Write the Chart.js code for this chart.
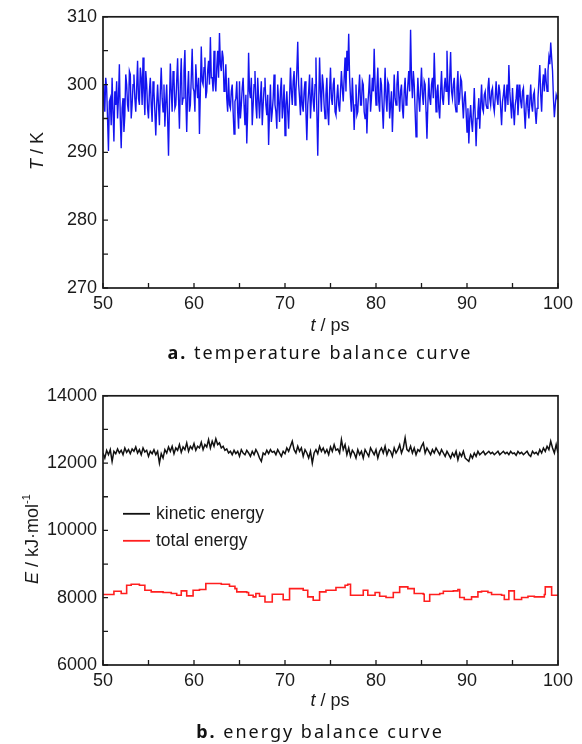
<!DOCTYPE html>
<html>
<head>
<meta charset="utf-8">
<script src="https://cdn.jsdelivr.net/npm/chart.js@4.4.1/dist/chart.umd.min.js"></script>
<style>
  html, body { margin: 0; padding: 0; background: #fff; }
  body { width: 582px; height: 744px; position: relative; overflow: hidden;
         font-family: "Liberation Sans", Arial, sans-serif; color: #1a1a1a; }
  .box { position: absolute; left: 0; width: 582px; }
  #boxA { top: 0; height: 320px; }
  #boxB { top: 379px; height: 318px; }
  .lbl { position: absolute; font-size: 18px; white-space: nowrap; }
  .ytitle { transform: translate(-50%, -50%) rotate(-90deg); }
  .xtitle { transform: translate(-50%, -50%); }
  .cap { position: absolute; white-space: nowrap; transform: translate(-50%, -50%);
         font-family: "Noto Sans", sans-serif; font-size: 18px; letter-spacing: 2px; color: #111; }
  sup { font-size: 11px; vertical-align: 8px; }
</style>
</head>
<body>
<div class="box" id="boxA"><canvas id="tempChart"></canvas></div>
<div class="box" id="boxB"><canvas id="energyChart"></canvas></div>

<div class="lbl ytitle" style="left:37px; top:151px;"><i>T</i> / K</div>
<div class="lbl xtitle" style="left:330px; top:325px;"><i>t</i> / ps</div>
<div class="cap" style="left:320px; top:352px;"><b>a.</b> temperature balance curve</div>

<div class="lbl ytitle" style="left:31px; top:539px;"><i>E</i> / kJ·mol<sup>-1</sup></div>
<div class="lbl xtitle" style="left:330px; top:700px;"><i>t</i> / ps</div>
<div class="cap" style="left:320px; top:731px;"><b>b.</b> energy balance curve</div>

<script>
// sampling grids of the MD trajectory (ps)
const tempStart = 50, tempStep = 0.1;
const kinStart = 50, kinStep = 0.2;

const xTicks = [50, 60, 70, 80, 90, 100];
const tempTicks = [270, 280, 290, 300, 310];
const energyTicks = [6000, 8000, 10000, 12000, 14000];

// temperature (K), one value every 0.1 ps from 50 to 100 ps (10 per row)
const temperature = [
  300, 297, 296, 301, 299.5, 295, 290.2, 297.5, 298, 294,
  301, 296, 291.6, 299, 297, 300.5, 295, 298, 303, 295,
  290.6, 296.5, 298, 293, 295.5, 301.5, 300, 297, 296, 302,
  301.5, 295, 297, 300, 301.5, 298, 296, 299.5, 303.5, 298,
  297, 302.5, 301, 297, 304, 299, 295.5, 302, 300, 296.5,
  295, 299, 301, 297, 294.5, 300.5, 299, 296, 292.5, 297,
  300, 297, 294, 299, 302.5, 298, 296, 300, 293.8, 297.5,
  300, 295, 289.5, 297, 303.1, 299, 296, 302, 301, 296.5,
  297, 300.5, 303.9, 298, 293.5, 300, 303.9, 297, 298, 302,
  305.1, 298, 293, 299, 302, 296, 297, 301, 305.3, 299.5,
  299, 296, 303, 300, 298, 301, 292.7, 299, 305.6, 300.5,
  300, 302.5, 304, 298, 299, 302, 303.5, 300, 307, 301,
  301, 299, 305, 300.5, 299, 302.5, 305, 301, 307.6, 303,
  302, 305, 304, 299, 300, 303, 298, 296, 301, 297,
  296.5, 299, 300, 296, 292.7, 297.5, 298, 300.5, 296, 293.5,
  300.5, 295, 297, 299.5, 301, 297, 294, 298.5, 291.3, 296,
  304.7, 299, 298, 301, 294, 297, 300, 302, 297, 295,
  301, 298, 295, 298, 300.5, 294, 297, 299.5, 301, 297,
  295.5, 298.5, 291.1, 296, 300, 294.5, 296, 298, 301.5, 297,
  296, 293.5, 300, 297.5, 294.5, 299, 301, 295, 297, 300,
  292.5, 297, 299, 296, 293.5, 298, 302.5, 299, 297, 300.5,
  302, 297, 299, 302, 306.3, 300, 298, 295.5, 301, 297,
  296, 299, 300.5, 296, 291.8, 297, 299, 301.5, 295, 298,
  301, 297.5, 296, 300, 304, 296, 289.5, 297, 304, 299,
  296, 301.5, 300, 297, 295, 298.5, 301, 296, 294, 299,
  302.5, 298, 297, 300, 301, 296, 295.5, 298, 300, 297,
  296, 299, 302, 299.5, 297.5, 301, 304, 299, 305, 302,
  307.5, 301, 298, 296, 301, 297.5, 293.3, 297, 300, 295.5,
  296, 299, 301.5, 297, 297, 300.5, 300, 296, 295, 298,
  292.8, 297, 299, 301.5, 296, 298, 301, 299, 305.3, 300,
  297, 299.5, 302.5, 297.5, 296, 301, 300, 296.5, 293.5, 298,
  302.5, 298, 296, 300.5, 300, 295, 297, 299, 293, 297,
  301.5, 298, 297, 300, 302, 298.5, 296, 299, 300, 296.5,
  295, 299, 301, 297, 297.5, 300, 302, 299, 308.1, 301,
  298, 302, 300, 296, 292.3, 297, 301, 298, 296, 299.5,
  302.5, 298.5, 297, 300.5, 300, 296, 292, 297, 301, 298,
  297, 300, 301, 298, 304.7, 300, 296, 299, 300, 296.5,
  295, 299, 302, 298, 297, 299.5, 301, 299, 305, 300,
  297, 301, 304.8, 299, 298, 300, 301, 297, 296, 299.5,
  302, 297, 298, 301, 300.5, 297.5, 295, 298, 299, 296,
  293, 296.5, 291.3, 295, 297, 294.5, 293, 296, 299.5, 295.5,
  290.9, 295, 296, 298, 293.5, 297, 300, 296.5, 296, 298.5,
  299, 297, 296.5, 299.5, 301, 298, 297, 299, 299.5, 297,
  296, 298, 300.5, 298, 297, 300, 299, 296.5, 294, 297.5,
  298.5, 300, 296, 298, 300, 297, 302.9, 299, 297, 295,
  299.5, 296.5, 294, 297, 298, 300, 295.5, 298, 300, 297.5,
  296.5, 299, 299.5, 296, 293.5, 297, 298.5, 296.5, 295, 297.5,
  300, 297, 296, 298.5, 299, 296, 294.2, 296.5, 298, 300.5,
  302.9, 298.5, 296, 300, 301.5, 299, 302.4, 300.5, 299, 302,
  304, 303, 306.2, 304, 302, 298, 295.2, 297, 298.5, 298,
  298.4
];

// kinetic energy (kJ/mol), one value every 0.2 ps
const kinetic = [
  12300, 12150, 12380, 12250, 12400,
  12050, 12350, 12280, 12420, 12300,
  12380, 12250, 12450, 12320, 12400,
  12280, 12420, 12350, 12480, 12300,
  12400, 12250, 12450, 12330, 12380,
  12200, 12350, 12280, 12400, 12250,
  12350, 12000, 12280, 12150, 12400,
  12300, 12480, 12350, 12500, 12280,
  12450, 12380, 12550, 12320, 12480,
  12400, 12600, 12350, 12500, 12420,
  12580, 12380, 12500, 12450, 12620,
  12400, 12550, 12480, 12700, 12450,
  12650, 12500, 12720, 12550, 12600,
  12450, 12500, 12380, 12420, 12300,
  12350, 12250, 12380, 12280, 12350,
  12200, 12400, 12300, 12250, 12380,
  12300, 12200, 12350, 12250, 12400,
  12300, 12150, 12050, 12300, 12250,
  12380, 12280, 12400, 12320, 12350,
  12250, 12400, 12300, 12200, 12350,
  12280, 12450, 12350, 12500, 12650,
  12400, 12300, 12500, 12350, 12450,
  12200, 12400, 12300, 12150, 12350,
  12000, 12300, 12400, 12280, 12500,
  12350, 12450, 12300, 12400, 12250,
  12480, 12350, 12550, 12380, 12420,
  12300, 12700, 12400, 12550, 12250,
  12450, 12200, 12380, 12300, 12150,
  12400, 12250, 12350, 12150, 12400,
  12300, 12200, 12450, 12350, 12250,
  12400, 12150, 12350, 12450, 12300,
  12500, 12250, 12400, 12350, 12200,
  12450, 12300, 12400, 12550, 12300,
  12450, 12750, 12400, 12350, 12500,
  12300, 12450, 12250, 12400, 12350,
  12500, 12600, 12300, 12450, 12350,
  12250, 12400, 12300, 12450, 12350,
  12250, 12400, 12300, 12200, 12350,
  12250, 12150, 12300, 12200, 12350,
  12100, 12300, 12200, 12350, 12150,
  12100, 12050, 12250, 12150, 12300,
  12200, 12350, 12250, 12300, 12350,
  12250, 12300, 12350, 12280, 12320,
  12250, 12300, 12350, 12250, 12300,
  12350, 12280, 12320, 12250, 12350,
  12280, 12300, 12230, 12350, 12280,
  12320, 12250, 12300, 12350, 12250,
  12200, 12350, 12280, 12320, 12250,
  12400, 12300, 12450, 12350, 12500,
  12400, 12650, 12450, 12300, 12550,
  12300
];

// total energy is written out only when it changes: step start times and levels
const totalTimes = [
  50.0, 51.2, 52.0, 52.6, 53.1, 54.0, 54.6, 55.3, 56.6, 57.5,
  58.1, 58.6, 59.2, 59.9, 60.6, 61.3, 63.0, 63.9, 64.5, 64.7,
  65.8, 66.0, 66.5, 66.8, 67.2, 67.8, 68.6, 69.8, 70.5, 72.0,
  72.5, 73.1, 73.8, 74.5, 75.6, 76.6, 76.9, 77.2, 78.6, 79.1,
  79.9, 80.4, 81.1, 81.9, 82.6, 83.5, 84.2, 85.2, 85.3, 85.9,
  87.0, 87.4, 88.5, 89.0, 89.2, 89.7, 90.5, 91.2, 91.6, 92.3,
  92.7, 93.8, 94.1, 94.6, 95.2, 96.0, 96.7, 97.4, 98.5, 98.6,
  99.3, 100.0
];
const totalEnergy = [
  8094, 8192, 8123, 8370, 8400, 8370, 8222, 8173, 8153, 8123,
  8074, 8202, 8054, 8222, 8242, 8420, 8400, 8341, 8271, 8173,
  8153, 8074, 8025, 8123, 8044, 7870, 8104, 7940, 8271, 8222,
  8025, 7926, 8173, 8222, 8301, 8370, 8400, 8074, 8222, 8074,
  8153, 8044, 8005, 8153, 8321, 8271, 8123, 8104, 7896, 8094,
  8123, 8192, 8202, 8242, 8005, 7946, 8025, 8173, 8192, 8153,
  8094, 8074, 7946, 8202, 7946, 8005, 8044, 8025, 8094, 8321,
  8074, 8074
];

const tempTimes = temperature.map((v, i) => +(tempStart + i * tempStep).toFixed(1));
const kinTimes = kinetic.map((v, i) => +(kinStart + i * kinStep).toFixed(1));

// frame + inward major/minor ticks, legend drawn inside the plot
const framePlugin = {
    id: 'frame',
    afterDraw(chart) {
        const { ctx, chartArea: a, scales } = chart;
        ctx.save();
        ctx.strokeStyle = '#1a1a1a';
        ctx.lineWidth = 1.7;
        ctx.strokeRect(a.left, a.top, a.right - a.left, a.bottom - a.top);

        ctx.lineWidth = 1.3;
        ctx.beginPath();
        const xv = scales.x.ticks.map(t => t.value);
        const yv = scales.y.ticks.map(t => t.value);
        const withMinor = arr => {
            const out = [];
            arr.forEach((v, i) => {
                out.push(v);
                if (i < arr.length - 1) out.push((v + arr[i + 1]) / 2);
            });
            return out;
        };
        withMinor(xv).forEach(v => {
            const px = scales.x.getPixelForValue(v);
            ctx.moveTo(px, a.bottom);
            ctx.lineTo(px, a.bottom - 5);
        });
        withMinor(yv).forEach(v => {
            const py = scales.y.getPixelForValue(v);
            ctx.moveTo(a.left, py);
            ctx.lineTo(a.left + 5, py);
        });
        ctx.stroke();

        const lg = chart.options.plugins.frame;
        if (lg && lg.legend) {
            ctx.font = '17.5px "Liberation Sans", Arial, sans-serif';
            ctx.textBaseline = 'middle';
            ctx.fillStyle = '#1a1a1a';
            chart.data.datasets.forEach((ds, i) => {
                const y = a.top + lg.top + i * lg.gap;
                ctx.strokeStyle = ds.borderColor;
                ctx.lineWidth = 1.8;
                ctx.beginPath();
                ctx.moveTo(a.left + 20, y);
                ctx.lineTo(a.left + 47, y);
                ctx.stroke();
                ctx.fillText(ds.label, a.left + 53, y);
            });
        }
        ctx.restore();
    }
};

function axisTicks(values) {
    return scale => { scale.ticks = values.map(v => ({ value: v })); };
}

function makeChart(id, datasets, yTicks, xHeight, legend) {
    const tickFont = { family: '"Liberation Sans", Arial, sans-serif', size: 18 };
    return new Chart(document.getElementById(id), {
        type: 'line',
        data: { datasets: datasets },
        options: {
            responsive: true, maintainAspectRatio: false, animation: false,
            layout: { padding: { top: 16, right: 24, left: 0, bottom: 0 } },
            elements: { point: { radius: 0 }, line: { tension: 0 } },
            plugins: {
                legend: { display: false }, tooltip: { enabled: false },
                frame: legend
            },
            scales: {
                x: {
                    type: 'linear', min: xTicks[0], max: xTicks[xTicks.length - 1],
                    afterBuildTicks: axisTicks(xTicks),
                    afterFit: s => { s.height = xHeight; },
                    grid: { display: false, drawTicks: false },
                    border: { display: false },
                    ticks: { font: tickFont, color: '#1a1a1a', padding: 5, maxRotation: 0,
                             callback: v => String(v) }
                },
                y: {
                    min: yTicks[0], max: yTicks[yTicks.length - 1],
                    afterBuildTicks: axisTicks(yTicks),
                    afterFit: s => { s.width = 103; },
                    grid: { display: false, drawTicks: false },
                    border: { display: false },
                    ticks: { font: tickFont, color: '#1a1a1a', padding: 6,
                             callback: v => String(v) }
                }
            }
        },
        plugins: [framePlugin]
    });
}

makeChart('tempChart', [{
    label: 'temperature',
    data: temperature.map((v, i) => ({ x: tempTimes[i], y: v })),
    borderColor: '#1414f0', borderWidth: 1.4
}], tempTicks, 32, {});

makeChart('energyChart', [{
    label: 'kinetic energy',
    data: kinetic.map((v, i) => ({ x: kinTimes[i], y: v })),
    borderColor: '#111111', borderWidth: 1.5
}, {
    label: 'total energy',
    data: totalEnergy.map((v, i) => ({ x: totalTimes[i], y: v })),
    borderColor: '#ff1f1f', borderWidth: 1.6, stepped: true
}], energyTicks, 32, { legend: true, top: 118, gap: 27 });
</script>
</body>
</html>
